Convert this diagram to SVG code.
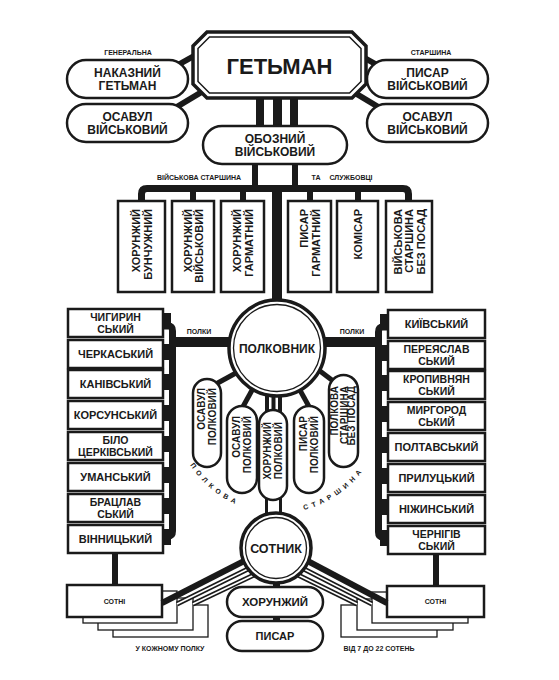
<svg xmlns="http://www.w3.org/2000/svg" width="559" height="680" viewBox="0 0 559 680">
<style>
.bg{fill:#fff}
.bx{fill:#fff;stroke:#1a1a1a;stroke-width:2.5}
.bt{fill:#fff;stroke:#1a1a1a;stroke-width:1.3}
.t{font-family:"Liberation Sans",Arial,sans-serif;font-weight:bold;fill:#1a1a1a;text-anchor:middle}
.r{font-size:11px}
.r2{font-size:10.5px}
.v{font-family:"Liberation Sans",Arial,sans-serif;font-weight:bold;fill:#1a1a1a;text-anchor:end;font-size:11px}
.p{font-family:"Liberation Sans",Arial,sans-serif;font-weight:bold;fill:#1a1a1a;text-anchor:end;font-size:10px}
.s{font-size:7px}
.k{stroke:#1a1a1a;fill:none;stroke-linecap:butt}
.w{stroke:#fff;fill:none;stroke-width:1.6}
.f{fill:#1a1a1a}
</style>
<rect class="bg" width="559" height="680"/>
<g id="connectors">
  <line class="k" x1="160" y1="75" x2="210" y2="47" stroke-width="6"/>
  <line class="k" x1="160" y1="117" x2="215" y2="84" stroke-width="6"/>
  <line class="k" x1="395" y1="75" x2="345" y2="47" stroke-width="6"/>
  <line class="k" x1="395" y1="117" x2="340" y2="84" stroke-width="6"/>
  <rect class="f" x="256" y="96" width="8" height="32"/>
  <rect class="f" x="273" y="96" width="9" height="32"/>
  <rect class="f" x="290" y="96" width="8" height="32"/>
  <rect class="f" x="252" y="160" width="6" height="30"/>
  <rect class="f" x="292" y="160" width="6" height="30"/>
  <path class="k" d="M141.5,203 V194 Q141.5,188.5 147,188.5 H403 Q408.5,188.5 408.5,194 V203" stroke-width="7"/>
  <rect class="f" x="190" y="188" width="6" height="15"/>
  <rect class="f" x="240" y="188" width="6" height="15"/>
  <rect class="f" x="307" y="188" width="6" height="15"/>
  <rect class="f" x="355" y="188" width="6" height="15"/>
  <rect class="f" x="272" y="185" width="10" height="120"/>
  <rect class="f" x="169" y="337" width="68" height="10"/>
  <rect class="f" x="318" y="337" width="62" height="10"/>
  <path class="k" d="M163,326 H168 Q172.5,326 172.5,331 V531 Q172.5,536 168,536 H163" stroke-width="7"/>
  <path class="k" d="M388,327 H383 Q378.5,327 378.5,332 V532 Q378.5,537 383,537 H388" stroke-width="7"/>
  <g class="f">
    <rect x="163" y="313" width="8" height="16"/>
    <rect x="163" y="344" width="8" height="16"/>
    <rect x="163" y="374" width="8" height="16"/>
    <rect x="163" y="405" width="8" height="16"/>
    <rect x="163" y="436" width="8" height="16"/>
    <rect x="163" y="467" width="8" height="16"/>
    <rect x="163" y="498" width="8" height="16"/>
    <rect x="163" y="529" width="8" height="16"/>
    <rect x="380" y="314" width="8" height="16"/>
    <rect x="380" y="345" width="8" height="16"/>
    <rect x="380" y="375" width="8" height="16"/>
    <rect x="380" y="406" width="8" height="16"/>
    <rect x="380" y="437" width="8" height="16"/>
    <rect x="380" y="468" width="8" height="16"/>
    <rect x="380" y="499" width="8" height="16"/>
    <rect x="380" y="530" width="8" height="16"/>
  </g>
  <line class="k" x1="245" y1="368" x2="205" y2="390" stroke-width="5"/>
  <line class="k" x1="256" y1="383" x2="240" y2="412" stroke-width="5"/>
  <line class="k" x1="296" y1="383" x2="312" y2="412" stroke-width="5"/>
  <line class="k" x1="312" y1="365" x2="345" y2="390" stroke-width="5"/>
  <rect class="f" x="265" y="390" width="4" height="24"/>
  <rect class="f" x="271.5" y="390" width="4" height="24"/>
  <rect class="f" x="278" y="390" width="4" height="24"/>
  <line class="k" x1="266.5" y1="497" x2="266.5" y2="518" stroke-width="3"/>
  <line class="k" x1="280.5" y1="497" x2="280.5" y2="518" stroke-width="3"/>
  <rect class="f" x="112" y="550" width="6" height="37"/>
  <rect class="f" x="433" y="551" width="6" height="37"/>
  <rect class="f" x="273" y="578" width="7" height="12"/>
  <rect class="f" x="273" y="614" width="7" height="10"/>
</g>
<g id="sotni-left">
  <rect class="bt" x="113" y="605" width="95" height="32"/>
  <rect class="bt" x="98" y="598" width="95" height="32"/>
  <rect class="bt" x="83" y="591" width="94" height="32"/>
  <rect class="bx" x="67" y="585" width="95" height="32"/>
  <text class="t s" x="114.5" y="603.5">СОТНІ</text>
</g>
<g id="sotni-right">
  <rect class="bt" x="341" y="605" width="96" height="32"/>
  <rect class="bt" x="357" y="599" width="96" height="31"/>
  <rect class="bt" x="372" y="592" width="96" height="31"/>
  <rect class="bx" x="387" y="586" width="97" height="31"/>
  <text class="t s" x="435.5" y="604">СОТНІ</text>
</g>
<g id="sotni-links">
  <line class="k" x1="250" y1="558" x2="162" y2="603" stroke-width="6"/>
  <line class="k" x1="252" y1="567" x2="177" y2="604" stroke-width="5"/>
  <line class="w" x1="252" y1="567" x2="177" y2="604"/>
  <line class="k" x1="256" y1="574" x2="193" y2="604" stroke-width="5"/>
  <line class="w" x1="256" y1="574" x2="193" y2="604"/>
  <line class="k" x1="302" y1="558" x2="387" y2="603" stroke-width="6"/>
  <line class="k" x1="300" y1="567" x2="372" y2="604" stroke-width="5"/>
  <line class="w" x1="300" y1="567" x2="372" y2="604"/>
  <line class="k" x1="296" y1="574" x2="357" y2="604" stroke-width="5"/>
  <line class="w" x1="296" y1="574" x2="357" y2="604"/>
</g>
<g id="hetman">
  <polygon points="207,32 352,32 366,46 366,84 352,98 207,98 193,84 193,46" fill="#fff" stroke="#1a1a1a" stroke-width="3.5"/>
  <polygon points="209.5,37 349.5,37 361,48.5 361,81.5 349.5,93 209.5,93 198,81.5 198,48.5" fill="none" stroke="#1a1a1a" stroke-width="1.5"/>
  <text class="t" x="279.5" y="74" font-size="22">ГЕТЬМАН</text>
</g>
<g id="labels-top">
  <text class="t s" x="128" y="54.5">ГЕНЕРАЛЬНА</text>
  <text class="t s" x="431" y="54.5">СТАРШИНА</text>
  <text class="t s" x="199" y="179.5">ВІЙСЬКОВА СТАРШИНА</text>
  <text class="t s" x="316" y="179.5">ТА</text>
  <text class="t s" x="351" y="179.5">СЛУЖБОВЦІ</text>
</g>
<g id="nakaznyi">
  <rect class="bx" x="67" y="60" width="121" height="38" rx="19"/>
  <text class="t" x="127.5" y="77" font-size="12">НАКАЗНИЙ</text>
  <text class="t" x="127.5" y="90" font-size="12">ГЕТЬМАН</text>
</g>
<g id="osavul-l">
  <rect class="bx" x="67" y="104" width="121" height="38" rx="19"/>
  <text class="t" x="127.5" y="121" font-size="12">ОСАВУЛ</text>
  <text class="t" x="127.5" y="134" font-size="12">ВІЙСЬКОВИЙ</text>
</g>
<g id="pysar-v">
  <rect class="bx" x="367" y="60" width="121" height="38" rx="19"/>
  <text class="t" x="427.5" y="77" font-size="12">ПИСАР</text>
  <text class="t" x="427.5" y="90" font-size="12">ВІЙСЬКОВИЙ</text>
</g>
<g id="osavul-r">
  <rect class="bx" x="367" y="104" width="121" height="38" rx="19"/>
  <text class="t" x="427.5" y="121" font-size="12">ОСАВУЛ</text>
  <text class="t" x="427.5" y="134" font-size="12">ВІЙСЬКОВИЙ</text>
</g>
<g id="oboznyi">
  <rect class="bx" x="203" y="126" width="144" height="38" rx="19"/>
  <text class="t" x="275" y="143" font-size="12">ОБОЗНИЙ</text>
  <text class="t" x="275" y="156" font-size="12">ВІЙСЬКОВИЙ</text>
</g>
<g id="v1">
  <rect class="bx" x="118" y="201" width="47" height="91" stroke-width="2"/>
  <g transform="translate(141.5,209) rotate(-90)"><text class="v" y="-1.5">ХОРУНЖИЙ</text><text class="v" y="10">БУНЧУЖНИЙ</text></g>
</g>
<g id="v2">
  <rect class="bx" x="172" y="201" width="42" height="91" stroke-width="2"/>
  <g transform="translate(193,209) rotate(-90)"><text class="v" y="-1.5">ХОРУНЖИЙ</text><text class="v" y="10">ВІЙСЬКОВИЙ</text></g>
</g>
<g id="v3">
  <rect class="bx" x="221" y="201" width="43" height="91" stroke-width="2"/>
  <g transform="translate(242.5,209) rotate(-90)"><text class="v" y="-1.5">ХОРУНЖИЙ</text><text class="v" y="10">ГАРМАТНИЙ</text></g>
</g>
<g id="v4">
  <rect class="bx" x="288" y="201" width="43" height="91" stroke-width="2"/>
  <g transform="translate(309.5,209) rotate(-90)"><text class="v" y="-1.5">ПИСАР</text><text class="v" y="10">ГАРМАТНИЙ</text></g>
</g>
<g id="v5">
  <rect class="bx" x="337" y="201" width="41" height="91" stroke-width="2"/>
  <g transform="translate(357.5,209) rotate(-90)"><text class="v" y="4">КОМІСАР</text></g>
</g>
<g id="v6">
  <rect class="bx" x="386" y="201" width="46" height="91" stroke-width="2"/>
  <g transform="translate(409,209) rotate(-90)"><text class="v" y="-7.5">ВІЙСЬКОВА</text><text class="v" y="4">СТАРШИНА</text><text class="v" y="15.5">БЕЗ ПОСАД</text></g>
</g>
<g id="polkovnyk">
  <circle cx="277" cy="348" r="48" fill="#fff" stroke="#1a1a1a" stroke-width="3.5"/>
  <circle cx="277" cy="348" r="43.5" fill="none" stroke="#1a1a1a" stroke-width="1.3"/>
  <text class="t" x="277" y="352.5" font-size="12">ПОЛКОВНИК</text>
</g>
<g id="labels-polky">
  <text class="t s" x="199" y="334">ПОЛКИ</text>
  <text class="t s" x="352" y="334">ПОЛКИ</text>
</g>
<g id="left-regiments">
  <rect class="bx" x="68" y="309" width="95" height="28"/><text class="t r2" x="115.5" y="321">ЧИГИРИН</text><text class="t r2" x="115.5" y="333">СЬКИЙ</text>
  <rect class="bx" x="68" y="340" width="95" height="28"/><text class="t r" x="115.5" y="358">ЧЕРКАСЬКИЙ</text>
  <rect class="bx" x="68" y="370" width="95" height="28"/><text class="t r" x="115.5" y="388">КАНІВСЬКИЙ</text>
  <rect class="bx" x="68" y="401" width="95" height="28"/><text class="t r" x="115.5" y="419">КОРСУНСЬКИЙ</text>
  <rect class="bx" x="68" y="432" width="95" height="28"/><text class="t r2" x="115.5" y="444">БІЛО</text><text class="t r2" x="115.5" y="456">ЦЕРКІВСЬКИЙ</text>
  <rect class="bx" x="68" y="463" width="95" height="28"/><text class="t r" x="115.5" y="481">УМАНСЬКИЙ</text>
  <rect class="bx" x="68" y="494" width="95" height="28"/><text class="t r2" x="115.5" y="506">БРАЦЛАВ</text><text class="t r2" x="115.5" y="518">СЬКИЙ</text>
  <rect class="bx" x="68" y="525" width="95" height="28"/><text class="t r" x="115.5" y="543">ВІННИЦЬКИЙ</text>
</g>
<g id="right-regiments">
  <rect class="bx" x="388" y="310" width="97" height="28"/><text class="t r" x="436.5" y="328">КИЇВСЬКИЙ</text>
  <rect class="bx" x="388" y="341" width="97" height="28"/><text class="t r2" x="436.5" y="353">ПЕРЕЯСЛАВ</text><text class="t r2" x="436.5" y="365">СЬКИЙ</text>
  <rect class="bx" x="388" y="371" width="97" height="28"/><text class="t r2" x="436.5" y="383">КРОПИВНЯН</text><text class="t r2" x="436.5" y="395">СЬКИЙ</text>
  <rect class="bx" x="388" y="402" width="97" height="28"/><text class="t r2" x="436.5" y="414">МИРГОРОД</text><text class="t r2" x="436.5" y="426">СЬКИЙ</text>
  <rect class="bx" x="388" y="433" width="97" height="28"/><text class="t r" x="436.5" y="451">ПОЛТАВСЬКИЙ</text>
  <rect class="bx" x="388" y="464" width="97" height="28"/><text class="t r" x="436.5" y="482">ПРИЛУЦЬКИЙ</text>
  <rect class="bx" x="388" y="495" width="97" height="28"/><text class="t r" x="436.5" y="513">НІЖИНСЬКИЙ</text>
  <rect class="bx" x="388" y="526" width="97" height="28"/><text class="t r2" x="436.5" y="538">ЧЕРНІГІВ</text><text class="t r2" x="436.5" y="550">СЬКИЙ</text>
</g>
<g id="p1">
  <rect class="bx" x="193" y="379" width="28" height="88" rx="14"/>
  <g transform="translate(207,388) rotate(-90)"><text class="p" y="-1.7">ОСАВУЛ</text><text class="p" y="9.3">ПОЛКОВИЙ</text></g>
</g>
<g id="p2">
  <rect class="bx" x="227" y="406" width="30" height="87" rx="15"/>
  <g transform="translate(242,416) rotate(-90)"><text class="p" y="-1.7">ОСАВУЛ</text><text class="p" y="9.3">ПОЛКОВИЙ</text></g>
</g>
<g id="p3">
  <rect class="bx" x="259" y="410" width="28" height="90" rx="14"/>
  <g transform="translate(273,422) rotate(-90)"><text class="p" y="-1.7">ХОРУНЖИЙ</text><text class="p" y="9.3">ПОЛКОВИЙ</text></g>
</g>
<g id="p4">
  <rect class="bx" x="294" y="406" width="30" height="87" rx="15"/>
  <g transform="translate(309,416) rotate(-90)"><text class="p" y="-1.7">ПИСАР</text><text class="p" y="9.3">ПОЛКОВИЙ</text></g>
</g>
<g id="p5">
  <rect class="bx" x="329" y="375" width="29" height="92" rx="14.5"/>
  <g transform="translate(343.5,386) rotate(-90)"><text class="p" y="-5.5" font-size="9.5">ПОЛКОВА</text><text class="p" y="4.5" font-size="9.5">СТАРШИНА</text><text class="p" y="11.8" font-size="5.5">БЕЗ ПОСАД</text></g>
</g>
<g id="arc-labels">
  <path id="arcL" d="M190,465 A108 108 0 0 0 248,509" fill="none"/>
  <path id="arcR" d="M304,510 A108 108 0 0 0 367,465" fill="none"/>
  <text class="t s" style="text-anchor:start" letter-spacing="4.2"><textPath href="#arcL">ПОЛКОВА</textPath></text>
  <text class="t s" style="text-anchor:start" letter-spacing="4.2"><textPath href="#arcR">СТАРШИНА</textPath></text>
</g>
<g id="sotnyk">
  <circle cx="276" cy="548" r="35" fill="#fff" stroke="#1a1a1a" stroke-width="3.5"/>
  <circle cx="276" cy="548" r="30.5" fill="none" stroke="#1a1a1a" stroke-width="1.3"/>
  <text class="t" x="276" y="552.5" font-size="12.5">СОТНИК</text>
</g>
<g id="khorunzhyi">
  <rect class="bx" x="227" y="587" width="96" height="30" rx="15"/>
  <text class="t" x="275" y="606" font-size="11.5">ХОРУНЖИЙ</text>
</g>
<g id="pysar">
  <rect class="bx" x="227" y="621" width="96" height="30" rx="15"/>
  <text class="t" x="275" y="640" font-size="11">ПИСАР</text>
</g>
<g id="labels-bottom">
  <text class="t s" x="170" y="650.5">У КОЖНОМУ ПОЛКУ</text>
  <text class="t s" x="379" y="650.5">ВІД 7 ДО 22 СОТЕНЬ</text>
</g>
</svg>
